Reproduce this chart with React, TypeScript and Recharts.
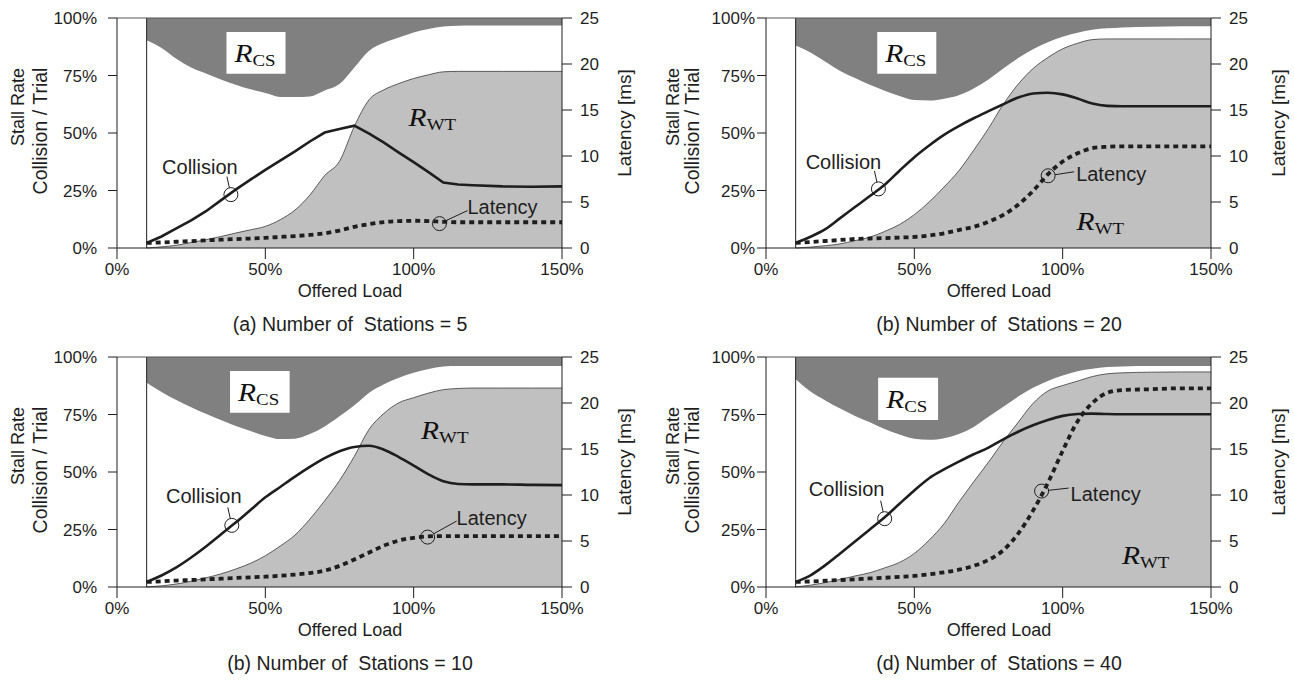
import React from 'react'
import { ComposedChart, Area, Line, XAxis, YAxis, ReferenceLine, ReferenceArea, ReferenceDot } from 'recharts'

// offered load samples (%), shared by all four panels
const loads = [10, 15, 20, 25, 30, 35, 40, 45, 50, 55, 60, 65, 70, 75, 80, 85, 90, 95, 100, 105, 110, 115, 120, 130, 140, 150]

// (a) 5 stations
const csA = [90.3, 87, 82.3, 78.5, 75.9, 73.3, 71, 69, 67.4, 65.7, 65.6, 65.9, 68.5, 71.3, 78.5, 85.8, 89.2, 91.5, 93.7, 95.2, 96.3, 96.6, 96.7, 96.7, 96.7, 96.7]
const wtA = [0, 0.5, 1.2, 2.4, 3.6, 5, 6.5, 7.9, 9.4, 12.3, 16.5, 23, 31.5, 37.7, 52.9, 64.5, 68.8, 71.5, 73.7, 75.3, 76.6, 76.8, 76.8, 76.8, 76.8, 76.8]
const colA = [2.2, 5, 8.5, 12, 16, 20.7, 25.4, 29.7, 34, 38, 42, 46.3, 50.2, 51.7, 53.2, 49.7, 45.8, 41.5, 37.3, 33, 28.5, 27.6, 27.3, 26.8, 26.6, 26.8]
const latA = [0.55, 0.6, 0.68, 0.75, 0.83, 0.9, 0.97, 1.03, 1.1, 1.2, 1.3, 1.42, 1.6, 1.9, 2.3, 2.6, 2.82, 2.92, 2.96, 2.92, 2.85, 2.8, 2.8, 2.8, 2.8, 2.8]

// (b) 20 stations
const csB = [88, 85, 81, 77, 73.9, 71, 68.4, 66.1, 64.3, 64.1, 64.9, 66.4, 69.3, 73.3, 78, 82.6, 86.4, 89.5, 91.9, 93.6, 94.9, 95.5, 95.9, 96.2, 96.4, 96.4]
const wtB = [0, 0.4, 1, 1.8, 3.2, 4.7, 7.2, 10.2, 14.5, 20, 26.5, 33.6, 42.5, 52, 62.5, 71.2, 78, 82.8, 86.6, 89, 90.6, 90.9, 90.9, 90.9, 90.9, 90.9]
const colB = [2.2, 4.9, 8.2, 13, 17.8, 22.6, 27.5, 33.6, 39.5, 44.6, 49.2, 53, 56.4, 59.5, 62.5, 65.4, 67.2, 67.5, 66.8, 65, 62.8, 61.8, 61.6, 61.6, 61.6, 61.6]
const latB = [0.55, 0.65, 0.76, 0.87, 0.98, 1.03, 1.08, 1.13, 1.2, 1.35, 1.6, 1.95, 2.3, 2.85, 3.6, 4.7, 6.2, 8, 9.4, 10.3, 10.85, 11, 11.05, 11.05, 11.05, 11.05]

// (c) 10 stations
const csC = [88.8, 84.8, 81.3, 78.2, 75.3, 72.6, 70, 67.8, 65.7, 64.3, 64.5, 66.5, 69.8, 74.2, 79, 84.5, 88.2, 91, 93.2, 94.8, 95.9, 96.1, 96.1, 96.1, 96.1, 96.1]
const wtC = [0, 0.5, 1.3, 2.5, 4, 5.7, 7.8, 10.3, 13.6, 17.8, 22.6, 29.5, 37.5, 46.3, 56.8, 68.6, 75.5, 80.1, 82.3, 84.3, 85.8, 86.3, 86.5, 86.5, 86.5, 86.5]
const colC = [2.2, 5, 8.5, 12.8, 17.6, 22.8, 28, 33.5, 39, 43.5, 48, 52.2, 56, 59, 60.9, 61.4, 59.7, 56.5, 52.8, 49, 46, 44.8, 44.6, 44.6, 44.4, 44.3]
const latC = [0.55, 0.62, 0.7, 0.76, 0.83, 0.9, 0.98, 1.05, 1.12, 1.22, 1.35, 1.52, 1.78, 2.3, 3, 3.75, 4.5, 5.05, 5.35, 5.5, 5.54, 5.54, 5.54, 5.54, 5.54, 5.54]

// (d) 40 stations
const csD = [90.3, 85, 81.1, 77.6, 74.4, 71.6, 68.7, 66.3, 64.5, 64, 64.7, 66.5, 69.6, 74, 78.4, 82.8, 86.6, 89.6, 92, 93.8, 94.9, 95.6, 95.9, 96.1, 96.1, 96.1]
const wtD = [0, 0.8, 1.9, 3.3, 4.8, 6.2, 8.3, 10.7, 14.6, 20.4, 27.5, 36.9, 45.7, 54.3, 63.3, 71.6, 79.8, 85.2, 87.6, 89.5, 91.5, 92.7, 93.1, 93.4, 93.5, 93.5]
const colD = [2.2, 5.1, 9.5, 14.6, 19.8, 25, 30.3, 36.2, 42, 47.3, 51.1, 54.5, 57.7, 60.6, 64.2, 67.5, 70.3, 72.6, 74.4, 75.2, 75.4, 75.2, 75.1, 75.1, 75.1, 75.1]
const latD = [0.55, 0.6, 0.68, 0.76, 0.84, 0.93, 1, 1.1, 1.2, 1.38, 1.6, 1.88, 2.3, 2.95, 4, 5.8, 8.3, 11.3, 14.8, 18, 20, 21.1, 21.4, 21.5, 21.6, 21.6]

const xTicks = [0, 50, 100, 150]
const leftTicks = [0, 25, 50, 75, 100]
const rightTicks = [0, 5, 10, 15, 20, 25]

const SANS = '"Liberation Sans", Arial, Helvetica, sans-serif'
const SERIF = '"Liberation Serif", "Times New Roman", serif'
const INK = '#1e1e1e'

type Callout = { x: number; y: number; text: string; tx: number; ty: number; lx: number; ly: number; anchor: 'start' | 'middle' | 'end' }

type Panel = {
  caption: string
  cs: number[]
  wt: number[]
  col: number[]
  lat: number[]
  left: number
  top: number
  colType: 'monotone' | 'linear'
  box: { x1: number; x2: number; y1: number; y2: number }
  wtLabel: { x: number; y: number }
  callouts: Callout[]
  rightCol: boolean
}

const panels: Panel[] = [
  {
    caption: '(a) Number of \u00a0Stations = 5', cs: csA, wt: wtA, col: colA, lat: latA, left: 0, top: 0, colType: 'linear',
    box: { x1: 36.9, x2: 56.8, y1: 75.8, y2: 93.9 }, wtLabel: { x: 98.3, y: 53.2 }, rightCol: false,
    callouts: [
      { x: 38.4, y: 23.2, text: 'Collision', tx: -31, ty: -28, lx: -4, ly: -18, anchor: 'middle' },
      { x: 108.7, y: 10.6, text: 'Latency', tx: 28, ty: -17, lx: 28, ly: -13, anchor: 'start' },
    ],
  },
  {
    caption: '(b) Number of \u00a0Stations = 20', cs: csB, wt: wtB, col: colB, lat: latB, left: 649, top: 0, colType: 'monotone',
    box: { x1: 37.5, x2: 57.4, y1: 75.8, y2: 93.9 }, wtLabel: { x: 104.7, y: 8 }, rightCol: true,
    callouts: [
      { x: 37.9, y: 25.7, text: 'Collision', tx: -35, ty: -27, lx: -4, ly: -18, anchor: 'middle' },
      { x: 95.1, y: 31.4, text: 'Latency', tx: 28, ty: -2, lx: 26, ly: -4, anchor: 'start' },
    ],
  },
  {
    caption: '(b) Number of \u00a0Stations = 10', cs: csC, wt: wtC, col: colC, lat: latC, left: 0, top: 339, colType: 'monotone',
    box: { x1: 38.1, x2: 58.2, y1: 75.8, y2: 93.9 }, wtLabel: { x: 102.5, y: 64.2 }, rightCol: false,
    callouts: [
      { x: 38.7, y: 26.8, text: 'Collision', tx: -28, ty: -29, lx: -4, ly: -18, anchor: 'middle' },
      { x: 104.7, y: 21.7, text: 'Latency', tx: 29, ty: -19, lx: 29, ly: -16, anchor: 'start' },
    ],
  },
  {
    caption: '(d) Number of \u00a0Stations = 40', cs: csD, wt: wtD, col: colD, lat: latD, left: 649, top: 339, colType: 'monotone',
    box: { x1: 37.8, x2: 58, y1: 72.6, y2: 91 }, wtLabel: { x: 120, y: 9.8 }, rightCol: true,
    callouts: [
      { x: 40, y: 29.7, text: 'Collision', tx: -38, ty: -30, lx: -4, ly: -18, anchor: 'middle' },
      { x: 92.9, y: 41.7, text: 'Latency', tx: 29, ty: 3, lx: 27, ly: -3, anchor: 'start' },
    ],
  },
]

function CalloutShape(props: any) {
  const { cx, cy, c } = props
  const r = 7
  const ang = Math.atan2(c.ly, c.lx)
  return (
    <g>
      <circle cx={cx} cy={cy} r={r} fill="none" stroke={INK} strokeWidth={1} />
      <line x1={cx + r * Math.cos(ang)} y1={cy + r * Math.sin(ang)} x2={cx + c.lx} y2={cy + c.ly} stroke={INK} strokeWidth={1} />
      <text x={cx + c.tx} y={cy + c.ty} textAnchor={c.anchor} dominantBaseline="central" fontFamily={SANS} fontSize={20} fill={INK}>
        {c.text}
      </text>
    </g>
  )
}

// italic R with an upright subscript, slightly widened like the original figure
function RText({ x, y, sub }: { x: number; y: number; sub: string }) {
  return (
    <text transform={`translate(${x},${y}) scale(1.18,1)`} fontFamily={SERIF} fill="#111">
      <tspan fontSize={25} fontStyle="italic">R</tspan>
      <tspan fontSize={16} dy={4}>{sub}</tspan>
    </text>
  )
}

function StallChart({ p }: { p: Panel }) {
  const data = loads.map((x, i) => ({ x, cs: [p.cs[i], 100], wt: p.wt[i], col: p.col[i], lat: p.lat[i] }))
  const tick = { fill: INK, fontSize: 17, fontFamily: SANS }
  return (
    <ComposedChart width={647} height={343} data={data} margin={{ top: 18, right: 25, left: 57, bottom: 65 }}>
      <XAxis type="number" dataKey="x" domain={[0, 150]} ticks={xTicks} tickFormatter={v => `${v}%`}
        height={30} tickSize={11} tickMargin={4} tick={tick} stroke={INK} allowDataOverflow />
      <YAxis yAxisId="l" domain={[0, 100]} ticks={leftTicks} tickFormatter={v => `${v}%`} width={60}
        tickSize={9} tickMargin={p.rightCol ? 2 : 11} tick={tick} stroke={INK} />
      <YAxis yAxisId="r" orientation="right" domain={[0, 25]} ticks={rightTicks} width={60}
        tickSize={10} tickMargin={8} tick={tick} stroke={INK} />
      <Area yAxisId="l" dataKey="cs" type="monotone" fill="#808080" fillOpacity={1} stroke="none" isAnimationActive={false} />
      <Area yAxisId="l" dataKey="wt" type="monotone" fill="#c0c0c0" fillOpacity={1} stroke="#3a3a3a" strokeWidth={0.8} isAnimationActive={false} />
      <ReferenceLine yAxisId="l" x={10} stroke={INK} strokeWidth={1} />
      <ReferenceLine yAxisId="l" y={100} stroke="#555" strokeWidth={1} />
      <ReferenceArea yAxisId="l" x1={p.box.x1} x2={p.box.x2} y1={p.box.y1} y2={p.box.y2} fill="#fff" fillOpacity={1} stroke="none"
        label={(lp: any) => <RText x={lp.viewBox.x + 8} y={lp.viewBox.y + 30} sub="CS" />} />
      <ReferenceDot yAxisId="l" x={p.wtLabel.x} y={p.wtLabel.y} r={0}
        shape={(sp: any) => <RText x={sp.cx} y={sp.cy} sub="WT" />} />
      <Line yAxisId="l" dataKey="col" type={p.colType} stroke={INK} strokeWidth={2.6} dot={false} isAnimationActive={false} />
      <Line yAxisId="r" dataKey="lat" type="monotone" stroke={INK} strokeWidth={3.8} strokeDasharray="5 4" dot={false} isAnimationActive={false} />
      {p.callouts.map((c, i) => (
        <ReferenceDot key={i} yAxisId="l" x={c.x} y={c.y} r={0} shape={(sp: any) => <CalloutShape cx={sp.cx} cy={sp.cy} c={c} />} />
      ))}
    </ComposedChart>
  )
}

const txt: React.CSSProperties = { position: 'absolute', fontFamily: SANS, fontSize: 18, color: INK, whiteSpace: 'nowrap', lineHeight: 1 }

function PanelBox({ p }: { p: Panel }) {
  const rot = (cx: number, cy: number, s: string, fs: number) => (
    <div style={{ ...txt, fontSize: fs, left: cx, top: cy, transform: 'translate(-50%, -50%) rotate(-90deg)' }}>{s}</div>
  )
  return (
    <div style={{ position: 'absolute', left: p.left, top: p.top, width: 647, height: 343 }}>
      <StallChart p={p} />
      {rot(p.rightCol ? 24 : 18, 107, 'Stall Rate', 18)}
      {rot(p.rightCol ? 43.5 : 41, 131, 'Collision / Trial', 19.5)}
      {rot(p.rightCol ? 629 : 624, 123, 'Latency [ms]', 19)}
      <div style={{ ...txt, left: 350, top: 291, transform: 'translate(-50%, -50%)' }}>Offered Load</div>
      <div style={{ ...txt, fontSize: 19.5, left: 350, top: 325, transform: 'translate(-50%, -50%)' }}>{p.caption}</div>
    </div>
  )
}

export default function App() {
  return (
    <div style={{ position: 'absolute', left: 0, top: 0, width: 1294, height: 686, background: '#fff', overflow: 'hidden' }}>
      {panels.map((p, i) => <PanelBox key={i} p={p} />)}
    </div>
  )
}
